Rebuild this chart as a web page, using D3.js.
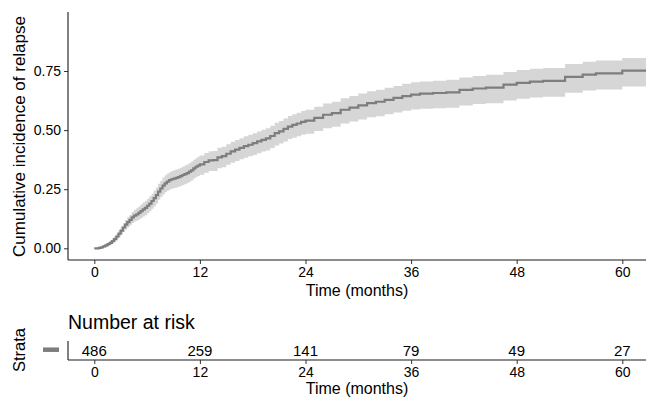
<!DOCTYPE html>
<html>
<head>
<meta charset="utf-8">
<script src="https://cdn.jsdelivr.net/npm/d3@7"></script>
<style>
  html, body { margin: 0; padding: 0; background: #fff; }
  svg { display: block; font-family: "Liberation Sans", Arial, Helvetica, sans-serif; }
</style>
</head>
<body>
<svg id="chart" width="646" height="400"></svg>
<script>
// ---- Data ----
const timeMonths = [0,0.25,0.5,0.75,1,1.25,1.5,1.75,2,2.25,2.5,2.75,3,3.25,3.5,3.75,4,4.25,4.5,4.75,5,5.25,5.5,5.75,6,6.25,6.5,6.75,7,7.25,7.5,7.75,8,8.25,8.5,8.75,9,9.25,9.5,9.75,10,10.25,10.5,10.75,11,11.25,11.5,11.75,12,12.5,13,13.5,14,14.5,15,15.5,16,16.5,17,17.5,18,18.5,19,19.5,20,20.5,21,21.5,22,22.5,23,23.5,24,25,26,27,28,29,30,31,32,33,34,35,36,37,38.5,40,41.5,43,44.5,46.5,48,49.5,51,53.5,55.5,57,60,63];
const cumInc = [0,0.000,0.002,0.004,0.008,0.012,0.018,0.023,0.030,0.039,0.050,0.062,0.075,0.088,0.100,0.111,0.120,0.131,0.138,0.143,0.150,0.157,0.165,0.171,0.180,0.189,0.200,0.212,0.225,0.240,0.253,0.265,0.275,0.282,0.288,0.292,0.295,0.298,0.301,0.305,0.310,0.314,0.318,0.324,0.330,0.338,0.345,0.350,0.355,0.365,0.372,0.373,0.385,0.390,0.400,0.410,0.417,0.425,0.432,0.438,0.445,0.452,0.459,0.465,0.475,0.487,0.495,0.505,0.515,0.522,0.528,0.535,0.540,0.552,0.565,0.572,0.586,0.595,0.605,0.614,0.620,0.628,0.636,0.644,0.650,0.654,0.657,0.660,0.670,0.676,0.680,0.692,0.700,0.705,0.708,0.725,0.735,0.740,0.752,0.755];
const ciLower = [0,0.000,0.000,0.001,0.004,0.007,0.011,0.015,0.020,0.028,0.037,0.047,0.058,0.069,0.080,0.089,0.097,0.107,0.113,0.117,0.122,0.128,0.135,0.140,0.148,0.157,0.167,0.178,0.190,0.205,0.217,0.228,0.237,0.243,0.249,0.252,0.255,0.257,0.260,0.264,0.268,0.272,0.276,0.281,0.287,0.295,0.302,0.306,0.311,0.320,0.327,0.327,0.339,0.343,0.353,0.362,0.369,0.377,0.383,0.389,0.395,0.402,0.409,0.414,0.424,0.435,0.443,0.452,0.462,0.468,0.474,0.480,0.485,0.496,0.508,0.514,0.528,0.536,0.545,0.554,0.559,0.567,0.574,0.582,0.587,0.590,0.592,0.595,0.604,0.610,0.614,0.625,0.633,0.638,0.641,0.658,0.667,0.672,0.684,0.687];
const ciUpper = [0,0.001,0.004,0.007,0.012,0.018,0.025,0.032,0.040,0.051,0.063,0.077,0.092,0.106,0.120,0.132,0.142,0.154,0.163,0.169,0.177,0.185,0.194,0.201,0.210,0.220,0.231,0.244,0.257,0.273,0.286,0.299,0.309,0.316,0.322,0.327,0.330,0.333,0.336,0.341,0.346,0.350,0.354,0.361,0.367,0.375,0.382,0.388,0.393,0.403,0.411,0.412,0.425,0.430,0.440,0.451,0.458,0.466,0.474,0.480,0.487,0.494,0.502,0.508,0.518,0.531,0.539,0.549,0.560,0.567,0.573,0.581,0.586,0.599,0.612,0.620,0.635,0.644,0.655,0.664,0.671,0.679,0.687,0.696,0.702,0.706,0.709,0.713,0.723,0.729,0.734,0.746,0.754,0.759,0.763,0.780,0.789,0.794,0.805,0.808];

const xTicks = [0, 12, 24, 36, 48, 60];
const yTicks = [0, 0.25, 0.50, 0.75];
const riskTimes = [0, 12, 24, 36, 48, 60];
const riskCounts = [486, 259, 141, 79, 49, 27];

const yTitle = "Cumulative incidence of relapse";
const xTitle = "Time (months)";
const riskTitle = "Number at risk";
const strataTitle = "Strata";

// ---- Layout ----
const svg = d3.select("#chart");
const panelLeft = 68, panelRight = 646;
const panelTop = 12, panelBottom = 260;
const lineCol = "#7d7d7d", bandCol = "#d6d6d6", axisCol = "#1a1a1a";

const x = d3.scaleLinear().domain([0, 60]).range([94.3, 622.3]);
const y = d3.scaleLinear().domain([0, 0.75]).range([248.3, 71]);

const data = timeMonths.map((t, i) => ({t, est: cumInc[i], lo: ciLower[i], hi: ciUpper[i]}));

svg.append("clipPath").attr("id", "clip")
  .append("rect").attr("x", panelLeft).attr("y", panelTop)
  .attr("width", panelRight - panelLeft).attr("height", panelBottom - panelTop);

const g = svg.append("g").attr("clip-path", "url(#clip)");

g.append("path").datum(data)
  .attr("fill", bandCol)
  .attr("d", d3.area().curve(d3.curveStepAfter)
    .x(d => x(d.t)).y0(d => y(d.lo)).y1(d => y(d.hi)));

g.append("path").datum(data)
  .attr("fill", "none").attr("stroke", lineCol).attr("stroke-width", 2.2)
  .attr("d", d3.line().curve(d3.curveStepAfter).x(d => x(d.t)).y(d => y(d.est)));

// Axes (main)
const yAxis = svg.append("g").attr("transform", `translate(${panelLeft},0)`)
  .call(d3.axisLeft(y).tickValues(yTicks).tickFormat(d3.format(".2f")).tickSize(4).tickPadding(3));
yAxis.select(".domain").remove();
svg.append("line").attr("x1", panelLeft).attr("x2", panelLeft).attr("y1", panelTop).attr("y2", panelBottom)
  .attr("stroke", axisCol).attr("stroke-width", 1.1);

const xAxis = svg.append("g").attr("transform", `translate(0,${panelBottom})`)
  .call(d3.axisBottom(x).tickValues(xTicks).tickSize(4).tickPadding(3));
xAxis.select(".domain").remove();
svg.append("line").attr("x1", panelLeft).attr("x2", panelRight).attr("y1", panelBottom).attr("y2", panelBottom)
  .attr("stroke", axisCol).attr("stroke-width", 1.1);

[yAxis, xAxis].forEach(a => {
  a.selectAll(".tick line").attr("stroke", "#333");
  a.selectAll(".tick text").attr("fill", "#000").style("font-size", "14px")
   .style("font-family", "'Liberation Sans', Arial, sans-serif");
});

svg.append("text").attr("transform", "translate(25,136.5) rotate(-90)")
  .attr("text-anchor", "middle").style("font-size", "17px").text(yTitle);
svg.append("text").attr("x", (panelLeft + panelRight) / 2).attr("y", 296)
  .attr("text-anchor", "middle").style("font-size", "16px").text(xTitle);

// ---- Risk table ----
const rTop = 341, rBottom = 360;
svg.append("text").attr("x", 68).attr("y", 328.5).style("font-size", "19.5px").text(riskTitle);
svg.append("line").attr("x1", panelLeft).attr("x2", panelLeft).attr("y1", rTop).attr("y2", rBottom)
  .attr("stroke", axisCol).attr("stroke-width", 1.1);
svg.append("line").attr("x1", panelLeft).attr("x2", panelRight).attr("y1", rBottom).attr("y2", rBottom)
  .attr("stroke", axisCol).attr("stroke-width", 1.1);
const rAxis = svg.append("g").attr("transform", `translate(0,${rBottom})`)
  .call(d3.axisBottom(x).tickValues(xTicks).tickSize(4).tickPadding(3));
rAxis.select(".domain").remove();
rAxis.selectAll(".tick line").attr("stroke", "#333");
rAxis.selectAll(".tick text").attr("fill", "#000").style("font-size", "14px")
  .style("font-family", "'Liberation Sans', Arial, sans-serif");

svg.append("g").selectAll("text").data(riskTimes).join("text")
  .attr("x", d => x(d)).attr("y", 355.7).attr("text-anchor", "middle")
  .style("font-size", "15px").text((d, i) => riskCounts[i]);

svg.append("line").attr("x1", 43).attr("x2", 59).attr("y1", 349.7).attr("y2", 349.7)
  .attr("stroke", lineCol).attr("stroke-width", 4.5);
svg.append("text").attr("transform", "translate(25,350) rotate(-90)")
  .attr("text-anchor", "middle").style("font-size", "16.5px").text(strataTitle);
svg.append("text").attr("x", (panelLeft + panelRight) / 2).attr("y", 394)
  .attr("text-anchor", "middle").style("font-size", "16px").text(xTitle);
</script>
</body>
</html>
